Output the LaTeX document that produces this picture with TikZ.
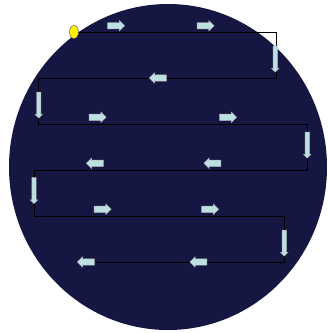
\documentclass[tikz,border=0pt]{standalone}
\usetikzlibrary{shapes.arrows,shapes.geometric}
\definecolor{disc}{RGB}{22,22,66}
\definecolor{arrowfill}{RGB}{188,224,226}
\tikzset{
  flowarrow/.style={single arrow, draw=gray!60, fill=arrowfill, line width=0.4pt,
    inner xsep=0pt, inner ysep=3pt, single arrow head extend=2pt, minimum height=17pt},
  rightarrow/.style={flowarrow},
  leftarrow/.style={flowarrow, rotate=180},
  downarrow/.style={flowarrow, rotate=-90, inner ysep=2pt, single arrow head extend=1.5pt, minimum height=26pt},
  scanline/.style={black, line width=0.7pt},
  startpoint/.style={ellipse, draw=gray!60!black, fill=yellow, minimum width=9pt, minimum height=13pt, inner sep=0pt}
}
\begin{document}
\begin{tikzpicture}[x=1pt, y=-1pt]
  \useasboundingbox (0,0) rectangle (328,333);
  \fill[disc] (168,167) ellipse [x radius=159, y radius=163];

  \node[startpoint] (start) at (74,32) {};
  \foreach \i/\x/\y in {1/276/32,2/276/78,3/38.7/78,4/38.7/124,5/307.3/124,
                        6/307.3/170,7/34.3/170,8/34.3/216,9/284.3/216,10/284.3/262,11/96/262} {
    \coordinate (c\i) at (\x,\y);
  }
  \draw[scanline] (start.east) -- (c1) -- (c2) -- (c3) -- (c4) -- (c5) -- (c6)
    -- (c7) -- (c8) -- (c9) -- (c10) -- (c11);

  % arrows along the rows
  \foreach \i/\x/\y in {1/114.5/25.7,2/204/25.7,3/96/117.3,4/226.5/117.3,5/101/209.3,6/208.5/209.3} {
    \node[rightarrow] (r\i) at (\x,\y) {};
  }
  \foreach \i/\x/\y in {1/159.5/78,2/96.5/163.3,3/214/163.3,4/200/262,5/87.5/262} {
    \node[leftarrow] (l\i) at (\x,\y) {};
  }
  \foreach \i/\x/\y in {1/275.3/58,2/38.7/104,3/307.3/144,4/34/189.5,5/284.3/242} {
    \node[downarrow] (d\i) at (\x,\y) {};
  }
\end{tikzpicture}
\end{document}
